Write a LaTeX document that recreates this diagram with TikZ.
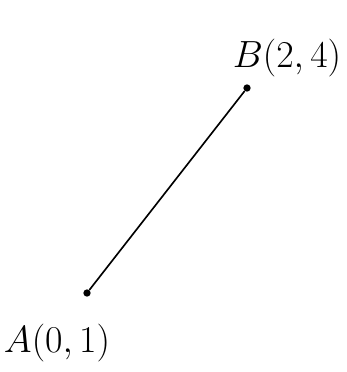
\documentclass[tikz,border=0pt]{standalone}
\usepackage{tikz}
\usetikzlibrary{positioning}

\begin{document}
\begin{tikzpicture}[
  x=0.3mm, y=-0.3mm,
  dot/.style={circle, fill=black, inner sep=0pt, minimum size=2.2mm},
  lbl/.style={font=\fontsize{24}{30}\selectfont, scale=1.3, inner sep=0pt},
  seg/.style={line width=1.4pt}
]
\useasboundingbox (0,0) rectangle (347,372);
\node[dot] (A) at (87,293) {};
\node[dot] (B) at (247,88) {};
\draw[seg] (A) -- (B);
\node[lbl] (Alabel) at (57,343) {$A(0,1)$};
\node[lbl] (Blabel) at (287,58) {$B(2,4)$};
\end{tikzpicture}
\end{document}
